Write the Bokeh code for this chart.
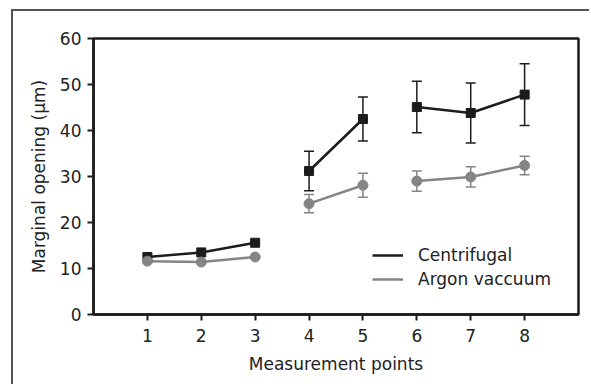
import numpy as np
from bokeh.plotting import figure
from bokeh.models import Whisker, ColumnDataSource, Legend, LegendItem, FixedTicker
from bokeh.embed import file_html
from bokeh.resources import INLINE

points = [1, 2, 3, 4, 5, 6, 7, 8]
groups = [[1, 2, 3], [4, 5], [6, 7, 8]]
centrifugal = [12.5, 13.5, 15.6, 31.2, 42.5, 45.1, 43.8, 47.8]
centrifugal_err = [0, 0, 0, 4.3, 4.8, 5.6, 6.5, 6.7]
argon = [11.6, 11.4, 12.5, 24.1, 28.1, 29.0, 29.9, 32.4]
argon_err = [0, 0, 0, 2.0, 2.6, 2.2, 2.2, 2.0]
y_ticks = [0, 10, 20, 30, 40, 50, 60]
series_names = ["Centrifugal", "Argon vaccuum"]

FONT = "DejaVu Sans"
DARK = "#1c1c1c"
GRAY = "#858585"

p = figure(width=578, height=375, output_backend="svg", toolbar_location=None,
           x_range=(0, 9), y_range=(0, 60),
           min_border_left=80, min_border_right=13, min_border_top=27, min_border_bottom=72)
p.margin = (9, 0, 0, 11)
p.styles = {"border-top": "2px solid #555", "border-left": "2px solid #555"}

p.xgrid.visible = False
p.ygrid.visible = False
p.outline_line_color = DARK
p.outline_line_width = 2.5

def gapped(vals):
    xs, ys = [], []
    for gi, g in enumerate(groups):
        if gi > 0:
            xs.append(np.nan); ys.append(np.nan)
        for pt in g:
            xs.append(pt); ys.append(vals[points.index(pt)])
    return xs, ys

def with_err(vals, errs, color, lw):
    idx = [i for i, e in enumerate(errs) if e > 0]
    src = ColumnDataSource(dict(
        x=[points[i] for i in idx],
        lo=[vals[i] - errs[i] for i in idx],
        hi=[vals[i] + errs[i] for i in idx]))
    w = Whisker(base="x", lower="lo", upper="hi", source=src, dimension="height",
                line_color=color, line_width=lw)
    w.upper_head.size = 10
    w.lower_head.size = 10
    w.upper_head.line_color = color
    w.lower_head.line_color = color
    w.upper_head.line_width = lw
    w.lower_head.line_width = lw
    p.add_layout(w)

with_err(centrifugal, centrifugal_err, DARK, 1.5)
with_err(argon, argon_err, GRAY, 1.5)

cx, cy = gapped(centrifugal)
ax, ay = gapped(argon)
l1 = p.line(cx, cy, line_color=DARK, line_width=2.5)
l2 = p.line(ax, ay, line_color=GRAY, line_width=2.5)
p.scatter(points, centrifugal, marker="square", size=9, fill_color=DARK, line_color=DARK)
p.scatter(points, argon, marker="circle", size=10, fill_color=GRAY, line_color=GRAY)

legend = Legend(items=[LegendItem(label=series_names[0], renderers=[l1]),
                       LegendItem(label=series_names[1], renderers=[l2])],
                location=(279, 23), border_line_color=None, background_fill_alpha=0,
                padding=0, margin=0, spacing=0, glyph_width=31, glyph_height=24,
                label_height=24, label_standoff=15,
                label_text_font=FONT, label_text_font_size="17px", label_text_color="#222")
p.add_layout(legend)

for ax_ in (p.xaxis[0], p.yaxis[0]):
    ax_.axis_line_color = DARK
    ax_.axis_line_width = 2.5
    ax_.major_tick_line_color = DARK
    ax_.major_tick_line_width = 2
    ax_.major_tick_out = 6
    ax_.major_tick_in = 0
    ax_.minor_tick_line_color = None
    ax_.major_label_text_font = FONT
    ax_.major_label_text_font_size = "17px"
    ax_.major_label_text_color = "#222"
    ax_.axis_label_text_font = FONT
    ax_.axis_label_text_font_size = "17px"
    ax_.axis_label_text_font_style = "normal"
    ax_.axis_label_text_color = "#222"

p.xaxis.ticker = FixedTicker(ticks=points)
p.yaxis.ticker = FixedTicker(ticks=y_ticks)
p.xaxis.axis_label = "Measurement points"
p.yaxis.axis_label = "Marginal opening (μm)"
p.xaxis.major_label_standoff = 8
p.xaxis.axis_label_standoff = 9
p.yaxis.major_label_standoff = 6
p.yaxis.axis_label_standoff = 8

open("out.html", "w").write(file_html(p, INLINE))
